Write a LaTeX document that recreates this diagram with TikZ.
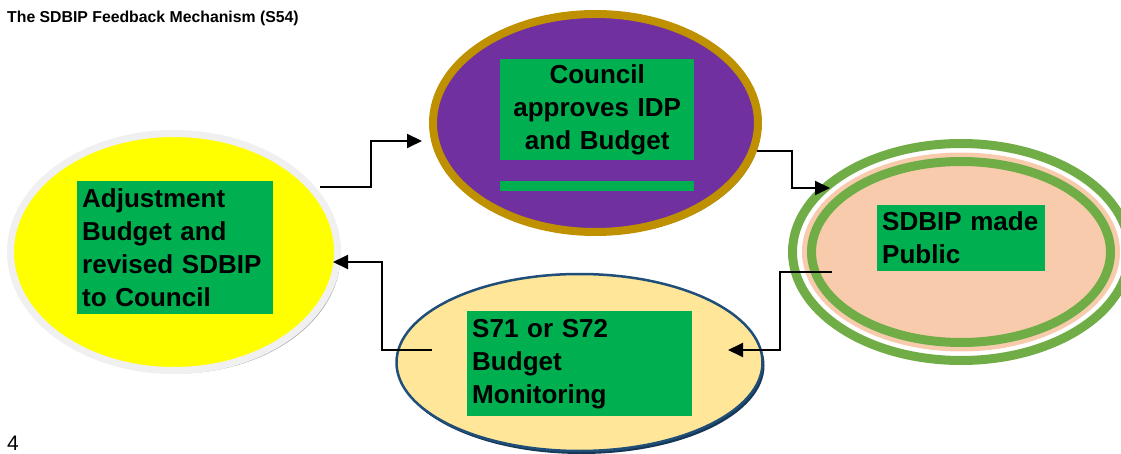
\documentclass[tikz,border=0pt]{standalone}
\usepackage{fontspec}
\setmainfont{Liberation Sans}
\usetikzlibrary{shapes.geometric,arrows.meta,shadows}

\definecolor{boxgreen}{HTML}{00B050}
\definecolor{ringgreen}{HTML}{70AD47}
\definecolor{adjyellow}{HTML}{FFFF00}
\definecolor{cnclpurple}{HTML}{7030A0}
\definecolor{cnclgold}{HTML}{BF9000}
\definecolor{pubpeach}{HTML}{F8CBAD}
\definecolor{monyellow}{HTML}{FFE699}
\definecolor{monblue}{HTML}{1F4E79}

\begin{document}
\begin{tikzpicture}[x=1pt,y=-1pt,
  oval/.style={ellipse, inner sep=0pt, outer sep=0pt},
  lbl/.style={anchor=north west, fill=boxgreen, inner sep=5pt, align=left,
    font=\fontsize{26}{33}\selectfont\bfseries}]
\useasboundingbox (0,0) rectangle (1121,454);

\node[anchor=base west, inner sep=0pt, font=\fontsize{15.8}{19}\selectfont\bfseries] (title) at (7,23) {The SDBIP Feedback Mechanism (S54)};
\node[anchor=base west, inner sep=0pt, font=\fontsize{21}{25}\selectfont] (pageno) at (7,450) {4};

% the four ovals
\node[oval, draw=black!6, line width=7pt, fill=adjyellow, minimum width=327, minimum height=237,
  drop shadow={opacity=1, fill=black!35, shadow xshift=3pt, shadow yshift=-3pt}] (adj) at (174,252) {};
\node[oval, draw=cnclgold, line width=8pt, fill=cnclpurple, minimum width=325, minimum height=218,
  drop shadow={opacity=1, fill=cnclgold!40!gray, shadow xshift=3pt, shadow yshift=-3pt}] (cncl) at (595.5,123) {};
\node[oval, draw=ringgreen, line width=9pt, minimum width=337, minimum height=217] (pubring) at (961,252) {};
\node[oval, fill=pubpeach, minimum width=318, minimum height=199] (pub) at (961,252) {};
\node[oval, draw=ringgreen, line width=9pt, minimum width=299, minimum height=181] (pubinner) at (961,252) {};
\node[oval, draw=monblue, line width=2.5pt, fill=monyellow, minimum width=366, minimum height=177,
  drop shadow={opacity=1, fill=monblue!70!black, shadow xshift=2pt, shadow yshift=-3pt}] (mon) at (579.5,362.5) {};

% green text boxes
\node[lbl, text width=186pt, minimum height=133pt] (adjtxt) at (77,181) {Adjustment\\Budget and\\revised SDBIP\\to Council};
\node[lbl, text width=184pt, minimum height=100pt, align=center] (cncltxt) at (500,59) {Council\\approves IDP\\and Budget};
\node[anchor=north west, fill=boxgreen, minimum width=194pt, minimum height=10pt, inner sep=0pt] (cnclbar) at (500,181) {};
\node[lbl, text width=158pt, minimum height=66pt] (pubtxt) at (877,205) {SDBIP made\\Public};
\node[lbl, text width=215pt, minimum height=105pt] (montxt) at (467,311) {S71 or S72\\Budget\\Monitoring};

% connector ends
\coordinate (adjout) at (320,187);
\coordinate (cnclin) at (422,141);
\coordinate (cnclout) at (757,151);
\coordinate (pubin) at (830,188);
\coordinate (pubout) at (832,272);
\coordinate (monin) at (728,350);
\coordinate (monout) at (432,350);
\coordinate (adjin) at (333,262);

\draw [>={Triangle[length=15pt,width=14pt]}, ->, line width=2pt] (adjout) -- ++(51,0) |- (cnclin);
\draw [>={Triangle[length=15pt,width=14pt]}, ->, line width=2pt] (cnclout) -- ++(35,0) |- (pubin);
\draw [>={Triangle[length=15pt,width=14pt]}, ->, line width=2pt] (pubout) -- ++(-52,0) |- (monin);
\draw [>={Triangle[length=15pt,width=14pt]}, ->, line width=2pt] (monout) -- ++(-50,0) |- (adjin);
\end{tikzpicture}
\end{document}
